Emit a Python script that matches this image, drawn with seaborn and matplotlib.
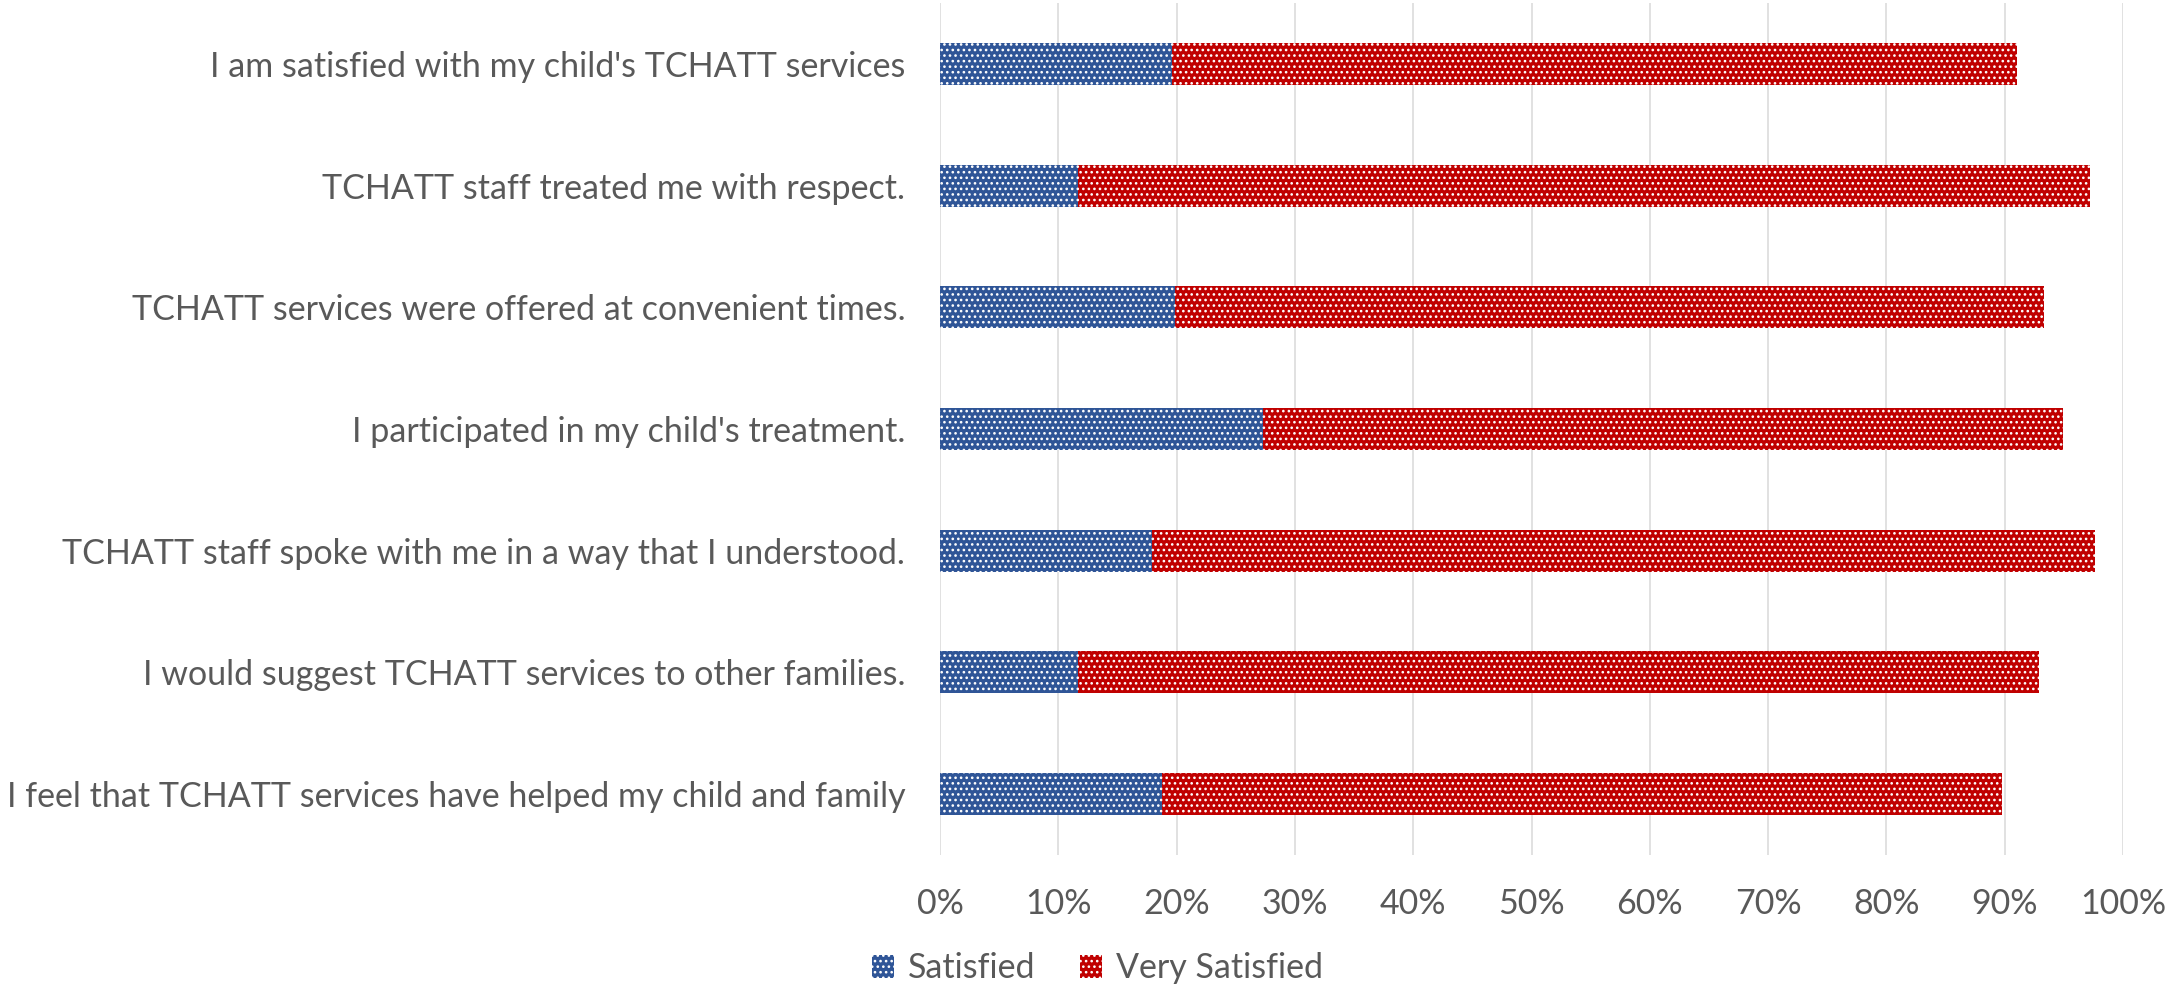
import matplotlib
matplotlib.use("Agg")
import matplotlib.pyplot as plt
import seaborn as sns
import pandas as pd
from matplotlib.patches import Patch

questions = [
    "I am satisfied with my child's TCHATT services",
    "TCHATT staff treated me with respect.",
    "TCHATT services were offered at convenient times.",
    "I participated in my child's treatment.",
    "TCHATT staff spoke with me in a way that I understood.",
    "I would suggest TCHATT services to other families.",
    "I feel that TCHATT services have helped my child and family",
]
satisfied = [19.6, 11.7, 19.9, 27.3, 17.9, 11.7, 18.8]
very_satisfied = [71.4, 85.5, 73.4, 67.6, 79.7, 81.2, 71.0]
series_names = ["Satisfied", "Very Satisfied"]
xtick_values = [0, 10, 20, 30, 40, 50, 60, 70, 80, 90, 100]
xtick_labels = ["0%", "10%", "20%", "30%", "40%", "50%", "60%", "70%", "80%", "90%", "100%"]

BLUE = "#2F5597"
RED = "#C00000"
TEXT = "#595959"
GRID = "#D9D9D9"

sns.set_theme(style="white")
plt.rcParams["font.family"] = ["Lato", "DejaVu Sans"]
plt.rcParams["hatch.linewidth"] = 1.1

df = pd.DataFrame({
    "question": questions,
    "Satisfied": satisfied,
    "Very Satisfied": very_satisfied,
})
df["total"] = df["Satisfied"] + df["Very Satisfied"]

fig = plt.figure(figsize=(21.7, 9.89), dpi=100)
ax = fig.add_axes([940 / 2170, 1 - 855 / 989, (2123 - 940) / 2170, (855 - 3) / 989])

sns.barplot(data=df, y="question", x="total", order=questions, color=RED,
            width=0.345, saturation=1, edgecolor="white", linewidth=0,
            hatch="...", ax=ax, zorder=2)
sns.barplot(data=df, y="question", x="Satisfied", order=questions, color=BLUE,
            width=0.345, saturation=1, edgecolor="white", linewidth=0,
            hatch="...", ax=ax, zorder=3)

ax.set_xlim(0, 100)
ax.set_xticks(xtick_values)
ax.set_xticklabels(xtick_labels)
ax.set_xlabel("")
ax.set_ylabel("")
ax.xaxis.grid(True, color=GRID, linewidth=1.1, zorder=0)
ax.set_axisbelow(True)
for s in ax.spines.values():
    s.set_visible(False)
FS = 24.5
ax.tick_params(axis="y", length=0, pad=25, labelsize=FS, labelcolor=TEXT)
ax.tick_params(axis="x", length=0, pad=24, labelsize=FS, labelcolor=TEXT)

handles = [Patch(facecolor=BLUE, edgecolor="white", linewidth=0, hatch="..."),
           Patch(facecolor=RED, edgecolor="white", linewidth=0, hatch="...")]
leg = fig.legend(handles, series_names, loc="center", bbox_to_anchor=(0.5057, 0.021),
                 ncol=2, frameon=False, fontsize=FS, handlelength=0.66, handleheight=0.66,
                 handletextpad=0.4, columnspacing=1.3, borderaxespad=0)
for t in leg.get_texts():
    t.set_color(TEXT)

fig.savefig("out.png", dpi=100)
